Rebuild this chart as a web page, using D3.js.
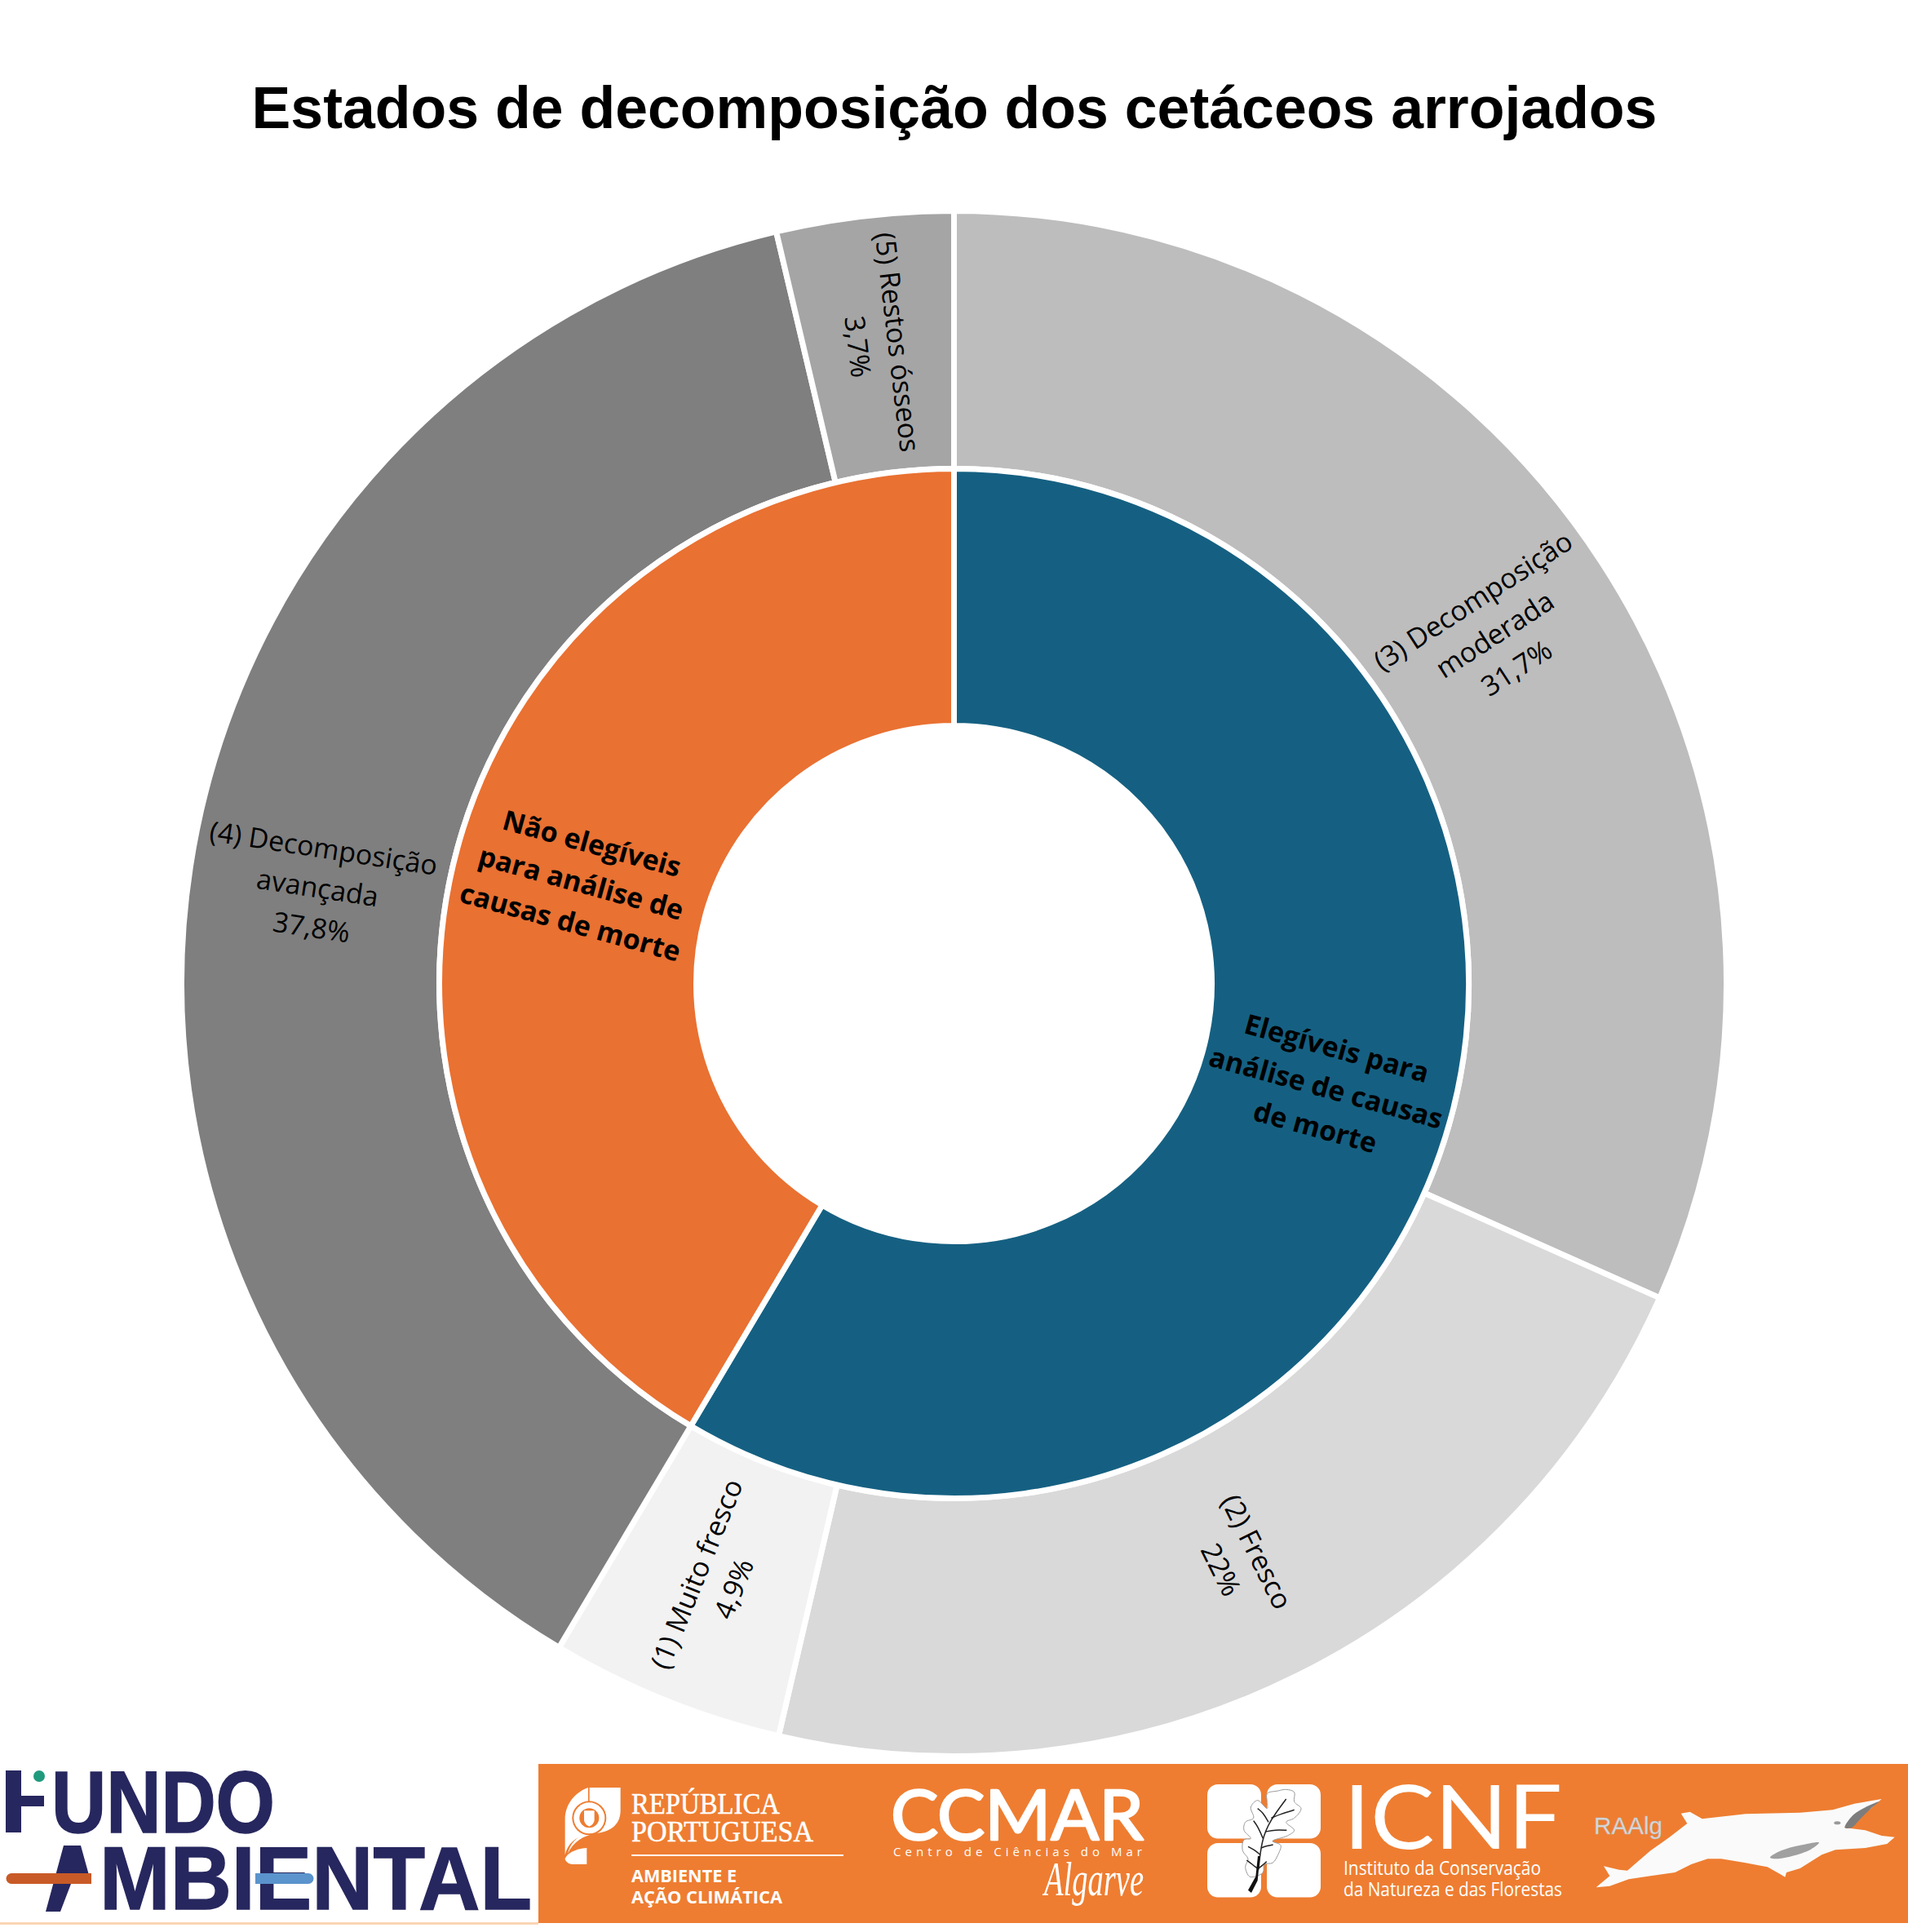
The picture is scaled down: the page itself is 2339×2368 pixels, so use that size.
<!DOCTYPE html>
<html>
<head>
<meta charset="utf-8">
<script src="https://cdn.jsdelivr.net/npm/d3@7"></script>
<style>
  html, body { margin: 0; padding: 0; background: #fff; }
  svg { display: block; }
</style>
</head>
<body>
<div id="chart"></div>
<script>
// ring data, clockwise from 12 o'clock
const outerLabels = ["(3) Decomposição\nmoderada\n31,7%", "(2) Fresco\n22%", "(1) Muito fresco\n4,9%", "(4) Decomposição\navançada\n37,8%", "(5) Restos ósseos\n3,7%"];
const outerValues = [31.7, 22, 4.9, 37.8, 3.7];
const outerColors = ["#bdbdbd", "#d9d9d9", "#f2f2f2", "#7f7f7f", "#a5a5a5"];

const innerLabels = ["Elegíveis para\nanálise de causas\nde morte", "Não elegíveis\npara análise de\ncausas de morte"];
const innerValues = [58.6, 41.5];
const innerColors = ["#156082", "#e97132"];

const chartTitle = "Estados de decomposição dos cetáceos arrojados";

const width = 2339, height = 2368;
const cx = 1169.5, cy = 1205.5;
const r0 = 316, r1 = 631, r2 = 947;
const labelFont = "'Open Sans', 'Noto Sans', sans-serif";

const svg = d3.select("#chart").append("svg")
    .attr("width", width)
    .attr("height", height)
    .attr("viewBox", `0 0 ${width} ${height}`);

svg.append("text")
    .attr("x", 1170)
    .attr("y", 157)
    .attr("text-anchor", "middle")
    .style("font", "bold 71.6px 'Liberation Sans', Arial, sans-serif")
    .style("fill", "#000")
    .text(chartTitle);

const pie = d3.pie().sort(null).value(d => d.value);
const g = svg.append("g").attr("transform", `translate(${cx},${cy})`);

function drawRing(values, labels, colors, inner, outer, fontSize, lineH, weight) {
    const arc = d3.arc().innerRadius(inner).outerRadius(outer);
    const data = values.map((v, i) => ({value: v, label: labels[i], color: colors[i]}));
    const arcs = pie(data);

    g.append("g").selectAll("path")
        .data(arcs)
        .enter().append("path")
        .attr("d", arc)
        .style("fill", d => d.data.color)
        .style("stroke", "#fff")
        .style("stroke-width", 7);

    const text = g.append("g").selectAll("text")
        .data(arcs)
        .enter().append("text")
        .attr("text-anchor", "middle")
        .style("font-family", labelFont)
        .style("font-size", fontSize + "px")
        .style("font-weight", weight)
        .style("fill", "#000")
        .attr("transform", d => {
            const [x, y] = arc.centroid(d);
            // labels follow the slice, always reading upright
            let a = (d.startAngle + d.endAngle) / 2 * 180 / Math.PI;
            a = a <= 180 ? a - 90 : a - 270;
            return `translate(${x},${y}) rotate(${a})`;
        });

    text.each(function(d) {
        const lines = d.data.label.split("\n");
        d3.select(this).selectAll("tspan")
            .data(lines)
            .enter().append("tspan")
            .attr("x", 0)
            .attr("y", (_, i) => (i - (lines.length - 1) / 2) * lineH)
            .attr("dy", "0.42em")
            .text(l => l);
    });
}

drawRing(outerValues, outerLabels, outerColors, r1, r2, 34, 49, 400);
drawRing(innerValues, innerLabels, innerColors, r0, r1, 34, 50, 700);

// --- footer logos, drawn by hand ---
const foot = svg.append("g").attr("class", "logos");
const navy = "#27275f", band = "#ee7d31";

foot.append("rect").attr("x", 0).attr("y", 2356).attr("width", 660).attr("height", 3).style("fill", "#fbd5b5");
foot.append("rect").attr("x", 660).attr("y", 2162).attr("width", 1679).attr("height", 195).style("fill", band);

function fitText(parent, str, x, y, w, font, color) {
    return parent.append("text")
        .attr("x", x).attr("y", y)
        .attr("textLength", w)
        .attr("lengthAdjust", "spacingAndGlyphs")
        .style("font", font)
        .style("fill", color)
        .text(str);
}

function traced(ox, oy, pts, curve) {
    const line = d3.line().x(p => ox + p[0] / 3).y(p => oy + p[1] / 3);
    if (curve) line.curve(curve);
    return line(pts);
}

// Fundo Ambiental
foot.append("rect").attr("x", 7).attr("y", 2170).attr("width", 19).attr("height", 76).style("fill", navy);
foot.append("rect").attr("x", 7).attr("y", 2201).attr("width", 47).attr("height", 13).style("fill", navy);
foot.append("ellipse").attr("cx", 48).attr("cy", 2177).attr("rx", 7).attr("ry", 7).style("fill", "#1f9a7c");
fitText(foot, "UNDO", 63, 2246, 274, "bold 107px 'Liberation Sans', sans-serif", navy)
    .style("stroke", navy).style("stroke-width", 1.5);
foot.append("path").attr("d", "M78 2262H99L112 2309H87L74 2343H56Z").style("fill", navy);
fitText(foot, "MBIENTAL", 122, 2340, 530, "bold 110px 'Liberation Sans', sans-serif", navy)
    .style("stroke", navy).style("stroke-width", 1.5);
foot.append("path").attr("d", "M14 2296H112V2309H14A6.5 6.5 0 0 1 14 2296Z").style("fill", "#c85a27");
foot.append("path").attr("d", "M313 2296H378A6.5 6.5 0 0 1 378 2309H313Z").style("fill", "#5b93cd");

// Republica Portuguesa
const rep = foot.append("g").attr("transform", "translate(680,2180) scale(0.3333)");
rep.append("path").attr("d", "M123 33C80 48 38 90 38 150V280C48 240 75 215 123 205Z").style("fill", "#fff");
rep.append("path").attr("d", "M128 33H242V120C240 175 200 195 150 202C105 210 70 232 48 275C62 225 95 205 128 200Z").style("fill", "#fff");
rep.append("path").attr("d", "M118 255V315H65C50 315 40 305 38 295C45 275 75 258 118 255Z").style("fill", "#fff");
rep.append("circle").attr("cx", 127).attr("cy", 145).attr("r", 63).style("fill", band);
rep.append("circle").attr("cx", 127).attr("cy", 145).attr("r", 57).style("fill", "#fff");
rep.append("circle").attr("cx", 127).attr("cy", 145).attr("r", 36).style("fill", band);
rep.append("path").attr("d", "M108 118H146V150C146 165 135 172 127 176C119 172 108 165 108 150Z").style("fill", "#fff");
fitText(foot, "REPÚBLICA", 774, 2223, 182, "400 35px 'Liberation Serif', serif", "#fff").style("stroke", "#fff").style("stroke-width", 0.5);
fitText(foot, "PORTUGUESA", 774, 2257, 223, "400 35px 'Liberation Serif', serif", "#fff").style("stroke", "#fff").style("stroke-width", 0.5);
foot.append("rect").attr("x", 774).attr("y", 2273).attr("width", 260).attr("height", 2).style("fill", "#fff");
fitText(foot, "AMBIENTE E", 774, 2307, 129, "bold 22px 'Open Sans', sans-serif", "#fff");
fitText(foot, "AÇÃO CLIMÁTICA", 774, 2333, 185, "bold 22px 'Open Sans', sans-serif", "#fff");

// CCMAR
fitText(foot, "CCMAR", 1092, 2255, 310, "400 86px Lato, sans-serif", "#fff")
    .style("stroke", "#fff").style("stroke-width", 2.5).style("stroke-linejoin", "round");
fitText(foot, "Centro de Ciências do Mar", 1095, 2275, 305, "500 15px 'Open Sans', sans-serif", "#fff")
    .attr("lengthAdjust", "spacing");
fitText(foot, "Algarve", 1280, 2323, 122, "italic 60px 'Liberation Serif', serif", "#fff");

// ICNF
[[1480, 2187], [1553, 2187], [1480, 2259], [1553, 2259]].forEach(p => {
    foot.append("rect").attr("x", p[0]).attr("y", p[1]).attr("width", 66).attr("height", 66.5).attr("rx", 13).style("fill", "#fff");
});
const leafOutline = [[250, 70], [290, 60], [320, 55], [350, 65], [350, 100], [375, 125], [350, 160], [320, 175], [350, 205], [325, 225], [270, 245], [300, 260], [290, 295], [270, 325], [240, 330], [235, 360], [205, 375], [185, 375], [170, 340], [180, 310], [160, 280], [165, 240], [190, 235], [165, 205], [170, 175], [200, 160], [190, 120], [215, 95], [250, 125], [250, 100]];
foot.append("path")
    .attr("d", traced(1470, 2175, leafOutline, d3.curveCatmullRomClosed))
    .style("fill", "#fff").style("stroke", "#9a9a9a").style("stroke-width", 1);
[[[218, 350], [230, 240], [260, 170], [320, 90]], [[265, 160], [300, 145], [350, 130]], [[245, 210], [280, 203], [322, 205]], [[235, 235], [215, 190], [200, 170]], [[255, 175], [235, 140], [215, 125]], [[228, 270], [250, 262], [272, 258]], [[225, 295], [200, 275], [180, 265]], [[218, 345], [232, 335], [248, 320]], [[214, 345], [195, 330], [175, 315]]].forEach(v => {
    foot.append("path").attr("d", traced(1470, 2175, v, d3.curveBasis)).style("fill", "none").style("stroke", "#222").style("stroke-width", 1.5);
});
foot.append("path").attr("d", traced(1470, 2175, [[180, 425], [192, 435], [215, 390], [224, 300], [216, 300], [208, 375]])).style("fill", "#111");
fitText(foot, "ICNF", 1647, 2266, 268, "400 108px Lato, sans-serif", "#fff");
fitText(foot, "Instituto da Conservação", 1647, 2298, 242, "400 23px 'Open Sans', sans-serif", "#fff");
fitText(foot, "da Natureza e das Florestas", 1647, 2324, 268, "400 23px 'Open Sans', sans-serif", "#fff");

// RAAlg whale
const whale = [[50, 400], [100, 358], [78, 322], [135, 335], [165, 338], [250, 265], [320, 215], [385, 165], [362, 128], [395, 122], [440, 148], [600, 130], [800, 125], [920, 115], [1000, 92], [1100, 75], [1060, 110], [1000, 150], [962, 180], [1040, 190], [1100, 210], [1148, 215], [1120, 240], [1040, 255], [930, 262], [880, 280], [800, 330], [750, 345], [745, 362], [728, 352], [680, 325], [600, 310], [510, 295], [460, 295], [400, 315], [340, 345], [250, 358], [170, 370], [100, 395]];
foot.append("path").attr("d", traced(1940, 2180, whale) + "Z").style("fill", "#fafafa");
foot.append("path").attr("d", traced(1940, 2180, [[965, 180], [1000, 130], [1090, 85], [1060, 110], [1020, 150], [990, 180]], d3.curveCatmullRomClosed)).style("fill", "#7d7d7d");
foot.append("path").attr("d", traced(1940, 2180, [[690, 290], [730, 265], [800, 245], [870, 235], [840, 260], [770, 285], [710, 295]], d3.curveCatmullRomClosed)).style("fill", "#a0a0a0");
foot.append("ellipse").attr("cx", 1940 + 937 / 3).attr("cy", 2180 + 163 / 3).attr("rx", 4).attr("ry", 2).style("fill", "#999");
foot.append("text").attr("x", 1954).attr("y", 2248)
    .attr("textLength", 84).attr("lengthAdjust", "spacingAndGlyphs")
    .style("font", "400 30px 'Liberation Sans', sans-serif")
    .style("fill", "#d8d8d8")
    .style("stroke", "#b8b8b8").style("stroke-width", 0.5)
    .text("RAAlg");
</script>
</body>
</html>
